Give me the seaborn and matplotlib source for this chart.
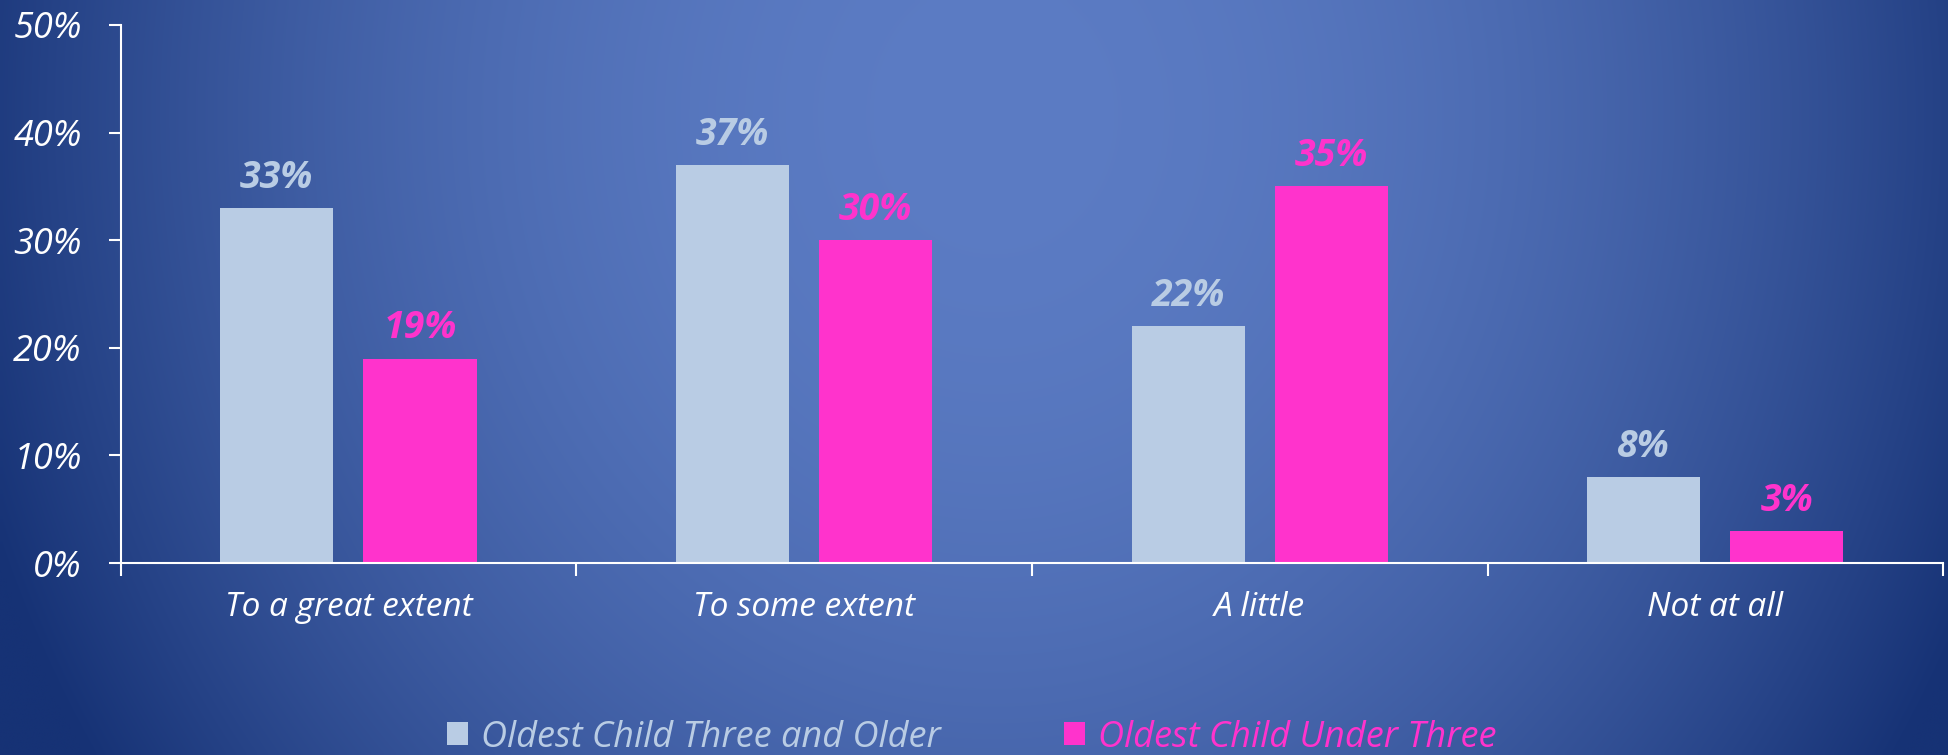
import numpy as np
import pandas as pd
import matplotlib
matplotlib.use("Agg")
import matplotlib.pyplot as plt
from matplotlib.patches import Patch
from matplotlib.ticker import FixedLocator
import seaborn as sns

# ---- data ----
categories = ["To a great extent", "To some extent", "A little", "Not at all"]
series_names = ["Oldest Child Three and Older", "Oldest Child Under Three"]
older_values = [33, 37, 22, 8]
under_values = [19, 30, 35, 3]
y_ticks = [0, 10, 20, 30, 40, 50]

colors = ["#b9cce4", "#ff33cc"]

sns.set_style("white")
plt.rcParams["font.family"] = ["Open Sans", "DejaVu Sans"]

df = pd.DataFrame({
    "category": categories * 2,
    "value": older_values + under_values,
    "group": [series_names[0]] * len(categories) + [series_names[1]] * len(categories),
})

W, H = 1949, 755
fig = plt.figure(figsize=(W / 100, H / 100), dpi=100)

# background gradient
bg = fig.add_axes([0, 0, 1, 1], zorder=-10)
xx, yy = np.meshgrid(np.linspace(0, 1, 400), np.linspace(0, 1, 160))
d = np.sqrt(((xx - 0.51) / 0.55) ** 2 + ((yy - 0.85) / 1.6) ** 2)
t = np.clip(d, 0, 1) ** 2
c0 = np.array([0x5c, 0x7c, 0xc4]) / 255.0
c1 = np.array([0x16, 0x32, 0x75]) / 255.0
img = c0[None, None, :] * (1 - t[..., None]) + c1[None, None, :] * t[..., None]
bg.imshow(img, origin="lower", aspect="auto", extent=[0, 1, 0, 1], interpolation="bilinear")
bg.set_axis_off()

ax = fig.add_axes([0.0619, 0.2543, 0.9351, 0.7127])
ax.set_facecolor("none")

sns.barplot(data=df, x="category", y="value", hue="group", hue_order=series_names,
            palette=colors, saturation=1, width=0.628, gap=0.21, legend=False, ax=ax,
            edgecolor="none", linewidth=0)

ax.set_xlim(-0.5, 3.5)
ax.set_ylim(0, 50)
ax.set_yticks(y_ticks)
ax.set_yticklabels([f"{v}%" for v in y_ticks], fontstyle="italic")
ax.set_xlabel("")
ax.set_ylabel("")
ax.set_xticks(range(len(categories)))
ax.set_xticklabels(categories, fontstyle="italic")
ax.xaxis.set_minor_locator(FixedLocator([-0.5, 0.5, 1.5, 2.5, 3.5]))

for s in ["top", "right"]:
    ax.spines[s].set_visible(False)
for s in ["left", "bottom"]:
    ax.spines[s].set_color("white")
    ax.spines[s].set_linewidth(1.5)

ax.tick_params(axis="y", colors="white", labelsize=26, length=9, width=1.5,
               direction="out", pad=19, left=True)
ax.tick_params(axis="x", which="major", colors="white", labelsize=24, length=0, pad=20)
ax.tick_params(axis="x", which="minor", colors="white", length=9, width=1.5,
               direction="out", bottom=True)

for cont, col in zip(ax.containers, colors):
    ax.bar_label(cont, labels=[f"{v:.0f}%" for v in cont.datavalues], padding=8,
                 color=col, fontsize=27, fontweight="bold", fontstyle="italic")

handles = [Patch(facecolor=c, edgecolor="none") for c in colors]
leg = fig.legend(handles, series_names, loc="center", bbox_to_anchor=(0.4985, 0.023),
                 ncol=2, frameon=False, prop={"size": 26, "style": "italic"},
                 handlelength=0.6, handleheight=0.6, handletextpad=0.35, columnspacing=3.4)
for txt, c in zip(leg.get_texts(), colors):
    txt.set_color(c)

fig.savefig("out.png", dpi=100)
